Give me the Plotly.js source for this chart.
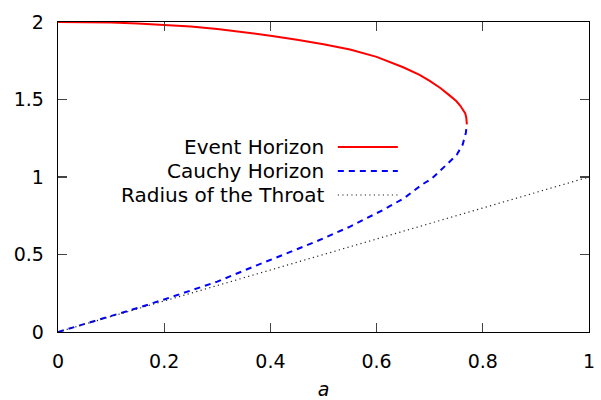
<!DOCTYPE html>
<html><head><meta charset="utf-8">
<script src="https://cdn.plot.ly/plotly-3.0.1.min.js"></script>
<style>html,body{margin:0;padding:0;background:#fff}#chart{width:601px;height:400px}</style>
</head><body><div id="chart"></div>
<script>
// Event horizon (red, solid)
const eventA = [0, 0.05, 0.1, 0.15, 0.2, 0.25, 0.3, 0.35, 0.4, 0.45, 0.5, 0.55, 0.6, 0.65, 0.68, 0.7, 0.72, 0.735, 0.75, 0.758, 0.764, 0.767, 0.769, 0.770];
const eventR = [2.0, 1.999, 1.996, 1.991, 1.983, 1.971, 1.955, 1.935, 1.912, 1.886, 1.857, 1.822, 1.775, 1.708, 1.66, 1.62, 1.574, 1.533, 1.49, 1.458, 1.43, 1.41, 1.38, 1.34];
// Cauchy horizon (blue, dashed)
const cauchyA = [0, 0.05, 0.1, 0.15, 0.2, 0.25, 0.3, 0.362, 0.42, 0.487, 0.55, 0.613, 0.652, 0.685, 0.704, 0.72, 0.735, 0.751, 0.762, 0.768, 0.7695, 0.770];
const cauchyR = [0, 0.05, 0.1, 0.155, 0.21, 0.265, 0.325, 0.413, 0.493, 0.585, 0.68, 0.789, 0.864, 0.95, 0.99, 1.04, 1.09, 1.144, 1.208, 1.284, 1.31, 1.34];
// Radius of the throat (black, dotted)
const throatA = [0, 0.2, 0.4, 0.6, 0.8, 1.0];
const throatR = [0, 0.2, 0.4, 0.6, 0.8, 1.0];
const names = ["Event Horizon", "Cauchy Horizon", "Radius of the Throat"];
const xTicks = [0, 0.2, 0.4, 0.6, 0.8, 1];
const xTickText = ["0", "0.2", "0.4", "0.6", "0.8", "1"];
const yTicks = [0, 0.5, 1, 1.5, 2];
const yTickText = ["0", "0.5", "1", "1.5", "2"];

const styles = [
  {color: "#ff0000", width: 2, dash: "solid"},
  {color: "#0000ff", width: 2, dash: "6px,5px"},
  {color: "#222222", width: 1.2, dash: "1.2px,3.3px"}
];
const series = [[eventA, eventR], [cauchyA, cauchyR], [throatA, throatR]];
const traces = series.map((s, i) => ({
  x: s[0], y: s[1], type: "scatter", mode: "lines", name: names[i],
  line: {color: styles[i].color, width: styles[i].width, dash: styles[i].dash},
  showlegend: false, hoverinfo: "skip"
}));

const font = {family: "DejaVu Sans", size: 19, color: "#000"};
const legFont = {family: "DejaVu Sans", size: 20, color: "#000"};
// legend rendered gnuplot-style: text on left, sample on right
const legY = [0.597, 0.519, 0.442];
const annotations = names.map((n, i) => ({
  xref: "paper", yref: "paper", x: 0.505, y: legY[i], xanchor: "right", yanchor: "middle",
  text: n, showarrow: false, font: legFont
}));
const shapes = styles.map((s, i) => ({
  type: "line", xref: "paper", yref: "paper", x0: 0.527, x1: 0.64, y0: legY[i], y1: legY[i],
  line: {color: s.color, width: s.width, dash: s.dash}
}));

const axisCommon = {
  showgrid: false, zeroline: false, showline: true, linecolor: "#000", linewidth: 1.3,
  mirror: "ticks", ticks: "inside", ticklen: 9, tickcolor: "#444", tickwidth: 1.3,
  tickfont: font
};
const layout = {
  width: 601, height: 400,
  margin: {l: 58, r: 12, t: 22, b: 68},
  paper_bgcolor: "#fff", plot_bgcolor: "#fff",
  xaxis: Object.assign({}, axisCommon, {range: [0, 1], tickvals: xTicks, ticktext: xTickText,
    ticklabelstandoff: 12,
    title: {text: "<i>a</i>", font: font, standoff: 14}}),
  yaxis: Object.assign({}, axisCommon, {range: [0, 2], tickvals: yTicks, ticktext: yTickText,
    ticklabelstandoff: 9}),
  annotations: annotations, shapes: shapes, showlegend: false
};
Plotly.newPlot("chart", traces, layout, {displayModeBar: false, staticPlot: true});
</script></body></html>
